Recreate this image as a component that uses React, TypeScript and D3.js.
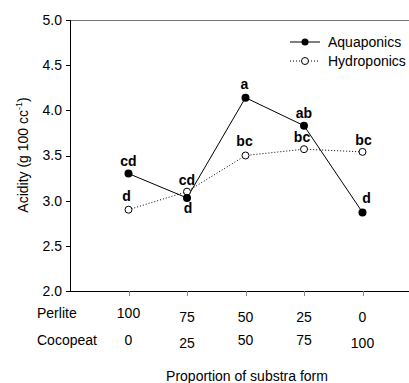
import * as d3 from 'd3';

const perlite = ['100', '75', '50', '25', '0'];
const cocopeat = ['0', '25', '50', '75', '100'];
const aquaponics = [3.3, 3.03, 4.14, 3.83, 2.87];
const hydroponics = [2.9, 3.1, 3.5, 3.57, 3.54];
const aquaLetters = ['cd', 'd', 'a', 'ab', 'd'];
const hydroLetters = ['d', 'cd', 'bc', 'bc', 'bc'];
const yTicks = [2.0, 2.5, 3.0, 3.5, 4.0, 4.5, 5.0];

// label offsets (dx, dy) from each point
const aquaOffsets = [[0, -8], [1, 15], [-1, -9], [0, -8], [4, -9]];
const hydroOffsets = [[-2, -9], [0, -7], [-1, -10], [-2, -7], [1, -7]];
const perliteDy = [0, 4, 4, 4, 4];
const cocopeatDy = [0, 3, 0, 0, 3];

const font = 'Arial, "Liberation Sans", sans-serif';

export default function App() {
  const width = 409;
  const height = 383;
  const left = 70;
  const top = 20;
  const bottom = 291;
  const right = 421;

  const x = d3.scalePoint<number>().domain(d3.range(perlite.length)).range([left, right]).padding(1);
  const y = d3.scaleLinear().domain([2, 5]).range([bottom, top]);
  const line = d3.line<number>().x((_, i) => x(i)!).y((d) => y(d));

  return (
    <div style={{ position: 'fixed', left: 0, top: 0 }}>
      <svg width={width} height={height} style={{ display: 'block', background: '#fff' }} fontFamily={font}>
        {/* frame */}
        <line x1={left} x2={right} y1={top + 0.5} y2={top + 0.5} stroke="#777" />
        <line x1={left + 0.5} x2={left + 0.5} y1={top} y2={bottom} stroke="#000" />
        <line x1={left} x2={right} y1={bottom + 0.5} y2={bottom + 0.5} stroke="#000" />

        {yTicks.map((t) => (
          <g key={t}>
            <line x1={left - 4} x2={left} y1={Math.round(y(t)) + 0.5} y2={Math.round(y(t)) + 0.5} stroke="#000" />
            <text x={62} y={y(t)} dy="0.35em" textAnchor="end" fontSize={14} fill="#000">
              {t.toFixed(1)}
            </text>
          </g>
        ))}

        {perlite.map((_, i) => (
          <line key={i} x1={Math.round(x(i)!) + 0.5} x2={Math.round(x(i)!) + 0.5} y1={bottom} y2={bottom + 5} stroke="#888" />
        ))}

        <text x={37} y={318} fontSize={14}>Perlite</text>
        <text x={37} y={345} fontSize={14}>Cocopeat</text>
        {perlite.map((p, i) => (
          <text key={'p' + i} x={x(i)} y={318 + perliteDy[i]} textAnchor="middle" fontSize={14}>{p}</text>
        ))}
        {cocopeat.map((c, i) => (
          <text key={'c' + i} x={x(i)} y={345 + cocopeatDy[i]} textAnchor="middle" fontSize={14}>{c}</text>
        ))}

        <text x={247} y={381} textAnchor="middle" fontSize={14}>Proportion of substra form</text>
        <text transform={`translate(28,155) rotate(-90)`} textAnchor="middle" fontSize={14}>
          Acidity (g 100 cc<tspan dy={-6} fontSize={9}>-1</tspan><tspan dy={6}>)</tspan>
        </text>

        {/* series */}
        <path d={line(hydroponics) ?? ''} fill="none" stroke="#000" strokeWidth={1} strokeDasharray="1 2" />
        <path d={line(aquaponics) ?? ''} fill="none" stroke="#000" strokeWidth={1} />
        {hydroponics.map((v, i) => (
          <circle key={'h' + i} cx={x(i)} cy={y(v)} r={3.5} fill="#fff" stroke="#000" />
        ))}
        {aquaponics.map((v, i) => (
          <circle key={'a' + i} cx={x(i)} cy={y(v)} r={4} fill="#000" />
        ))}

        {aquaponics.map((v, i) => (
          <text key={'al' + i} x={x(i)! + aquaOffsets[i][0]} y={y(v) + aquaOffsets[i][1]} textAnchor="middle" fontSize={14} fontWeight="bold">
            {aquaLetters[i]}
          </text>
        ))}
        {hydroponics.map((v, i) => (
          <text key={'hl' + i} x={x(i)! + hydroOffsets[i][0]} y={y(v) + hydroOffsets[i][1]} textAnchor="middle" fontSize={14} fontWeight="bold">
            {hydroLetters[i]}
          </text>
        ))}

        {/* legend */}
        <g transform="translate(290,42)">
          <line x1={0} x2={30} y1={0} y2={0} stroke="#000" />
          <circle cx={15} cy={0} r={3.5} fill="#000" />
          <text x={38} y={0} dy="0.35em" fontSize={14}>Aquaponics</text>
        </g>
        <g transform="translate(290,61)">
          <line x1={0} x2={30} y1={0} y2={0} stroke="#000" strokeDasharray="1 2" />
          <circle cx={15} cy={0} r={3.5} fill="#fff" stroke="#000" />
          <text x={38} y={0} dy="0.35em" fontSize={14}>Hydroponics</text>
        </g>
      </svg>
    </div>
  );
}
